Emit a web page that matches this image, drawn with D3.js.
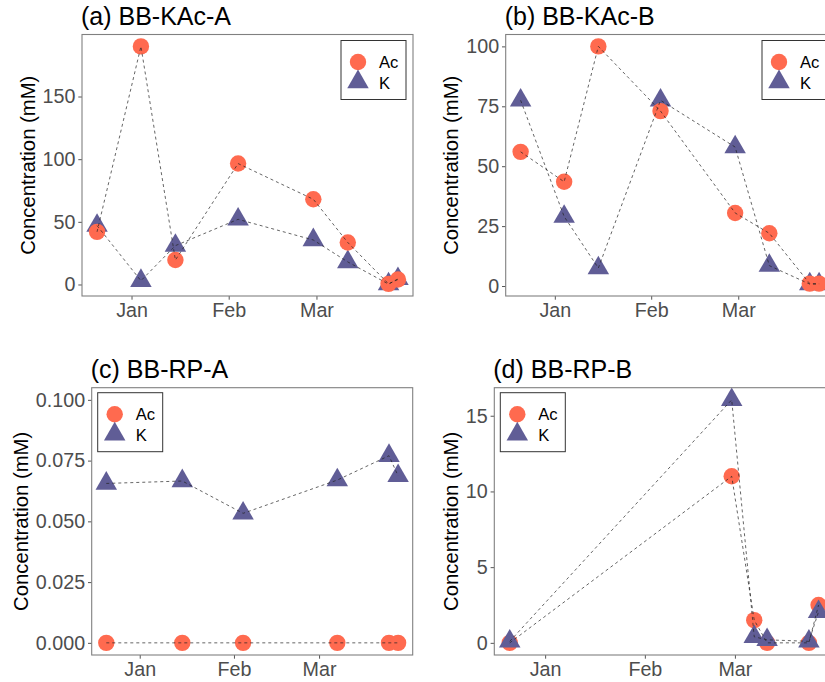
<!DOCTYPE html>
<html>
<head>
<meta charset="utf-8">
<script src="https://cdn.jsdelivr.net/npm/d3@7"></script>
<style>
  body { margin: 0; background: #fff; }
  svg { display: block; font-family: "Liberation Sans", Arial, sans-serif; }
</style>
</head>
<body>
<script>
// Sampling dates for each reactor
var datesA = ["2018-12-21", "2019-01-04", "2019-01-15", "2019-02-04", "2019-02-28", "2019-03-11", "2019-03-24", "2019-03-27"];
var datesB = ["2018-12-21", "2019-01-04", "2019-01-15", "2019-02-04", "2019-02-28", "2019-03-11", "2019-03-24", "2019-03-27"];
var datesC = ["2018-12-21", "2019-01-15", "2019-02-04", "2019-03-07", "2019-03-24", "2019-03-27"];
var datesD = ["2018-12-21", "2019-02-28", "2019-03-07", "2019-03-11", "2019-03-24", "2019-03-27"];

// Concentrations (mM)
var acA = [42, 190, 19.5, 96.5, 68, 33.5, 0.5, 4];
var kA = [47, 3, 31, 52, 35.5, 18, 0.3, 4.5];
var acB = [56, 43.5, 100, 73, 30.5, 22, 1, 1];
var kB = [77.5, 29, 7.5, 77.5, 58, 8.5, 0.8, 0.8];
var acC = [0, 0, 0, 0, 0, 0];
var kC = [0.0656, 0.0666, 0.0533, 0.067, 0.077, 0.0687];
var acD = [0, 11, 1.5, 0, 0, 2.5];
var kD = [0.1, 16.05, 0.4, 0.2, 0.1, 2.05];

// Axis ticks
var monthTicks = ["2019-01-01", "2019-02-01", "2019-03-01"];
var ticksA = [0, 50, 100, 150];
var ticksB = [0, 25, 50, 75, 100];
var ticksC = [0, 0.025, 0.05, 0.075, 0.1];
var ticksD = [0, 5, 10, 15];

var seriesNames = ["Ac", "K"];
var acColor = "#FF6A4F";
var kColor = "#605D96";

var parse = d3.timeParse("%Y-%m-%d");

var svg_width = 825;
var svg_height = 682;

var svg = d3.select("body").append("svg")
  .attr("width", svg_width)
  .attr("height", svg_height);

// panel boxes are [left, top, right, bottom]
var panels = [
  { title: "(a) BB-KAc-A", dates: datesA, ac: acA, k: kA, ticks: ticksA, fmt: d3.format("d"),
    box: [82, 34.5, 413, 296], legend: "tr", triFirst: true },
  { title: "(b) BB-KAc-B", dates: datesB, ac: acB, k: kB, ticks: ticksB, fmt: d3.format("d"),
    box: [505.7, 34.5, 834, 296], legend: "tr", triFirst: true },
  { title: "(c) BB-RP-A", dates: datesC, ac: acC, k: kC, ticks: ticksC, fmt: d3.format(".3f"),
    box: [91.7, 387.7, 412.7, 655], legend: "tl", triFirst: true, limits: [0, 0.1] },
  { title: "(d) BB-RP-B", dates: datesD, ac: acD, k: kD, ticks: ticksD, fmt: d3.format("d"),
    box: [494.3, 387.7, 834, 655], legend: "tl", triFirst: false }
];

// Shared date range, padded 5% each side like ggplot
var allDates = [].concat(datesA, datesB, datesC, datesD).map(parse);
var dExt = d3.extent(allDates);
var dPad = (dExt[1] - dExt[0]) * 0.05;
var xDomain = [new Date(+dExt[0] - dPad), new Date(+dExt[1] + dPad)];

var circleR = 8.2;
var triArea = 200;
var triPath = d3.symbol(d3.symbolTriangle, triArea)();

panels.forEach(function(p) {
  var g = svg.append("g");
  var left = p.box[0], top = p.box[1], right = p.box[2], bottom = p.box[3];

  var x = d3.scaleTime().domain(xDomain).range([left, right]);
  var ext = p.limits || d3.extent(p.ac.concat(p.k));
  var pad = (ext[1] - ext[0]) * 0.05;
  var y = d3.scaleLinear().domain([ext[0] - pad, ext[1] + pad]).range([bottom, top]);

  var acPts = p.dates.map(function(d, i) { return { date: parse(d), v: p.ac[i] }; });
  var kPts = p.dates.map(function(d, i) { return { date: parse(d), v: p.k[i] }; });

  // Axes
  var yAxis = g.append("g")
    .attr("transform", "translate(" + left + ",0)")
    .call(d3.axisLeft(y).tickValues(p.ticks).tickFormat(p.fmt).tickSize(3.7).tickPadding(2.9));
  var xAxis = g.append("g")
    .attr("transform", "translate(0," + bottom + ")")
    .call(d3.axisBottom(x).tickValues(monthTicks.map(parse)).tickFormat(d3.timeFormat("%b"))
      .tickSize(3.7).tickPadding(3.6));
  [yAxis, xAxis].forEach(function(a) {
    a.select(".domain").remove();
    a.selectAll(".tick line").attr("stroke", "#555").attr("stroke-width", 1);
    a.selectAll(".tick text").attr("fill", "#4d4d4d").style("font-size", "19.7px")
      .style("font-family", "'Liberation Sans', Arial, sans-serif");
  });

  // Points
  var drawCircles = function() {
    g.selectAll(null).data(acPts).enter().append("circle")
      .attr("cx", function(d) { return x(d.date); })
      .attr("cy", function(d) { return y(d.v); })
      .attr("r", circleR)
      .attr("fill", acColor);
  };
  var drawTriangles = function() {
    g.selectAll(null).data(kPts).enter().append("path")
      .attr("d", triPath)
      .attr("transform", function(d) { return "translate(" + x(d.date) + "," + y(d.v) + ")"; })
      .attr("fill", kColor);
  };
  if (p.triFirst) { drawTriangles(); drawCircles(); }
  else { drawCircles(); drawTriangles(); }

  // Dashed connecting lines on top of the points
  var line = d3.line().x(function(d) { return x(d.date); }).y(function(d) { return y(d.v); });
  [acPts, kPts].forEach(function(pts) {
    g.append("path")
      .attr("d", line(pts))
      .attr("fill", "none")
      .attr("stroke", "#222")
      .attr("stroke-width", 0.7)
      .attr("stroke-dasharray", "3,3");
  });

  // Panel border
  g.append("rect")
    .attr("x", left).attr("y", top)
    .attr("width", right - left).attr("height", bottom - top)
    .attr("fill", "none")
    .attr("stroke", "#808080")
    .attr("stroke-width", 1.1);

  // Y title placed just left of the tick labels
  var bb = yAxis.node().getBBox();
  g.append("text")
    .attr("transform", "translate(" + (left + bb.x - 8) + "," + ((top + bottom) / 2) + ") rotate(-90)")
    .attr("text-anchor", "middle")
    .style("font-size", "20.3px")
    .attr("fill", "#000")
    .text("Concentration (mM)");

  // Panel title
  g.append("text")
    .attr("x", left - 1)
    .attr("y", top - 9.5)
    .style("font-size", "25px")
    .attr("fill", "#000")
    .text(p.title);

  // Legend
  var lw = 65, lh = 59;
  var lx = p.legend === "tr" ? right - 7 - lw : left + 6;
  var ly = top + (p.legend === "tr" ? 6 : 5);
  var lg = g.append("g").attr("transform", "translate(" + lx + "," + ly + ")");
  lg.append("rect")
    .attr("width", lw).attr("height", lh)
    .attr("fill", "#fff")
    .attr("stroke", "#333")
    .attr("stroke-width", 1);
  lg.append("circle").attr("cx", 17).attr("cy", 21.5).attr("r", circleR).attr("fill", acColor);
  lg.append("path").attr("d", triPath).attr("transform", "translate(17,41.5)").attr("fill", kColor);
  lg.selectAll("text.legend-text")
    .data(seriesNames)
    .enter()
    .append("text")
    .attr("class", "legend-text")
    .attr("x", 38)
    .attr("y", function(d, i) { return 27.6 + i * 21; })
    .style("font-size", "16.6px")
    .attr("fill", "#000")
    .text(function(d) { return d; });
});
</script>
</body>
</html>
